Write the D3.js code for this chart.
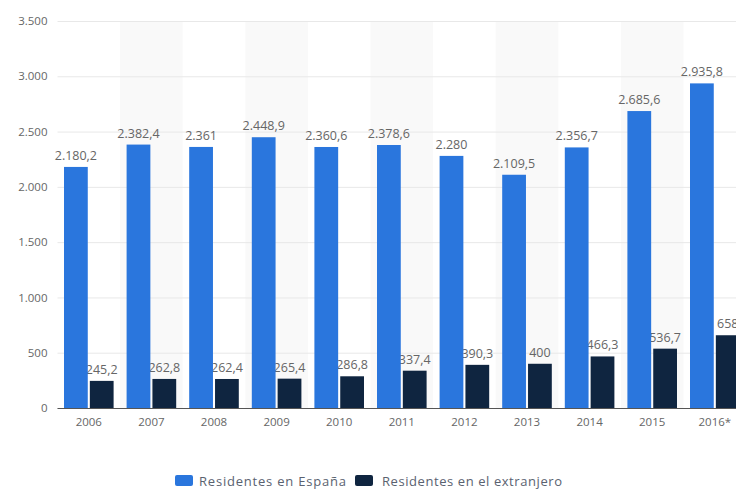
<!DOCTYPE html>
<html>
<head>
<meta charset="utf-8">
<script src="https://cdn.jsdelivr.net/npm/d3@7"></script>
<style>
  body { margin: 0; background: #fff; }
  svg { display: block; font-family: "Open Sans", sans-serif; }
</style>
</head>
<body>
<div id="chart"></div>
<script>
"use strict";

// Data
const years = ["2006", "2007", "2008", "2009", "2010", "2011", "2012", "2013", "2014", "2015", "2016*"];
const residentesEspana = [2180.2, 2382.4, 2361, 2448.9, 2360.6, 2378.6, 2280, 2109.5, 2356.7, 2685.6, 2935.8];
const residentesExtranjero = [245.2, 262.8, 262.4, 265.4, 286.8, 337.4, 390.3, 400, 466.3, 536.7, 658];
const seriesNames = ["Residentes en España", "Residentes en el extranjero"];
const seriesColors = ["#2a76dd", "#0f2540"];
const yTicks = [0, 500, 1000, 1500, 2000, 2500, 3000, 3500];

const width = 736, height = 489;
const margin = { top: 21, bottom: 81, left: 57.5 };

// Spanish number format: 2.180,2
const es = d3.formatLocale({ decimal: ",", thousands: ".", grouping: [3], currency: ["", " €"] });
function fmt(v) {
    return Number.isInteger(v) ? es.format(",d")(v) : es.format(",.1f")(v);
}

const svg = d3.select("#chart").append("svg")
    .attr("width", width)
    .attr("height", height);

// Each year gets a 62.6px column, the last one runs past the window
const x = d3.scaleBand()
    .domain(years)
    .range([margin.left, margin.left + years.length * 62.6]);

const x1 = d3.scaleBand()
    .domain([0, 1])
    .range([6.5, x.bandwidth() - 6.5])
    .paddingInner(0.08);

const y = d3.scaleLinear()
    .domain([0, 3500])
    .range([height - margin.bottom, margin.top]);

// Alternating shaded columns
svg.append("g")
    .selectAll("rect")
    .data(years.filter((d, i) => i % 2 === 1))
    .join("rect")
    .attr("x", d => x(d))
    .attr("y", margin.top)
    .attr("width", x.bandwidth())
    .attr("height", y(0) - margin.top)
    .attr("fill", "#f9f9f9");

// Horizontal grid lines + tick labels
svg.append("g")
    .attr("transform", `translate(${margin.left},0)`)
    .call(d3.axisLeft(y).tickValues(yTicks).tickSize(-(width - margin.left)).tickFormat(d => es.format(",d")(d)))
    .call(g => g.select(".domain").remove())
    .call(g => g.selectAll(".tick line").attr("stroke", "#e8e8e8"))
    .call(g => g.selectAll(".tick text")
        .attr("x", -10)
        .attr("fill", "#666")
        .attr("font-size", 11.5)
        .attr("font-family", "Open Sans, sans-serif"));

const data = years.map((d, i) => ({ year: d, values: [residentesEspana[i], residentesExtranjero[i]] }));

// Labels of the dark bars go first so the blue bars cover them a bit, as in the picture
svg.append("g")
    .attr("font-size", 12.5)
    .attr("fill", "#666")
    .attr("text-anchor", "middle")
    .selectAll("text")
    .data(data)
    .join("text")
    .attr("x", d => x(d.year) + x1(1) + x1.bandwidth() / 2)
    .attr("y", d => y(d.values[1]) - 7)
    .text(d => fmt(d.values[1]));

// Bars
const group = svg.append("g")
    .selectAll("g")
    .data(data)
    .join("g")
    .attr("transform", d => `translate(${x(d.year)},0)`);

group.selectAll("rect")
    .data(d => d.values.map((v, k) => ({ k: k, v: v })))
    .join("rect")
    .attr("x", d => x1(d.k))
    .attr("y", d => y(d.v))
    .attr("width", x1.bandwidth())
    .attr("height", d => y(0) - y(d.v))
    .attr("fill", d => seriesColors[d.k]);

// Labels of the blue bars
svg.append("g")
    .attr("font-size", 12.5)
    .attr("fill", "#666")
    .attr("text-anchor", "middle")
    .selectAll("text")
    .data(data)
    .join("text")
    .attr("x", d => x(d.year) + x1(0) + x1.bandwidth() / 2)
    .attr("y", d => y(d.values[0]) - 7)
    .text(d => fmt(d.values[0]));

// Base line and year labels
svg.append("g")
    .attr("transform", `translate(0,${y(0)})`)
    .call(d3.axisBottom(x).tickSize(0).tickPadding(10))
    .call(g => g.select(".domain").attr("d", `M${margin.left},0.5H${width}`).attr("stroke", "#555"))
    .call(g => g.selectAll(".tick text")
        .attr("fill", "#666")
        .attr("font-size", 11.5)
        .attr("font-family", "Open Sans, sans-serif"));

// Legend, centred under the chart
const legend = svg.append("g").attr("transform", "translate(175,475)");
const legendOffsets = [0, 180];
const legendTextWidths = [147, 180];
seriesNames.forEach((name, i) => {
    const item = legend.append("g").attr("transform", `translate(${legendOffsets[i]},0)`);
    item.append("rect")
        .attr("width", 18)
        .attr("height", 11)
        .attr("rx", 2)
        .attr("fill", seriesColors[i]);
    item.append("text")
        .attr("x", 24 + (i ? 3 : 0))
        .attr("y", 10.5)
        .attr("font-size", 13)
        .attr("fill", "#5a6270")
        .attr("textLength", legendTextWidths[i])
        .attr("lengthAdjust", "spacing")
        .text(name);
});
</script>
</body>
</html>
